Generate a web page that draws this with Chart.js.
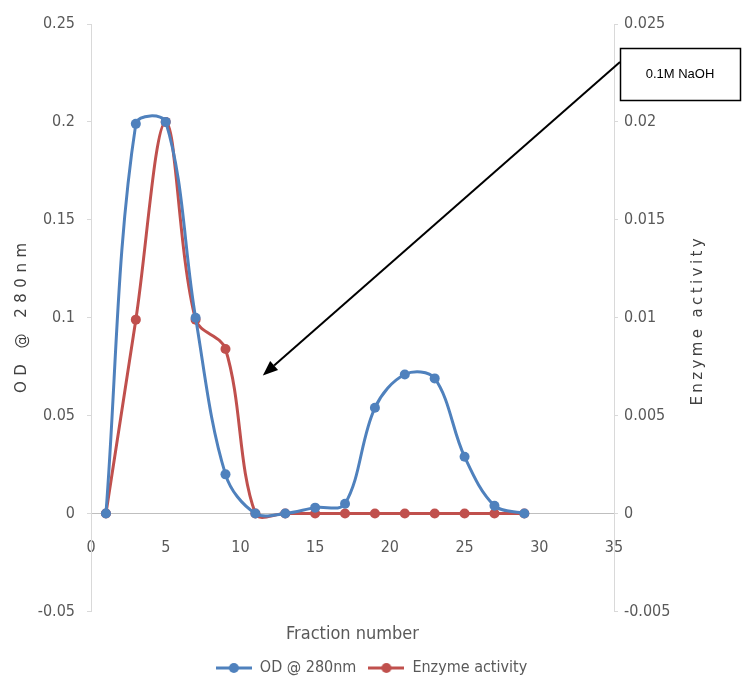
<!DOCTYPE html>
<html><head><meta charset="utf-8">
<script src="https://cdn.jsdelivr.net/npm/chart.js@4"></script>
<style>html,body{margin:0;padding:0;background:#fff;}#wrap{width:743px;height:686px;}</style>
</head><body><div id="wrap"><canvas id="c" width="743" height="686"></canvas></div>
<script>
const fractions = [1,3,5,7,9,11,13,15,17,19,21,23,25,27,29];
const odValues = [0,0.199,0.2,0.1,0.02,0,0,0.003,0.005,0.054,0.071,0.069,0.029,0.004,0];
const enzymeValues = [0,0.0099,0.02,0.0099,0.0084,0,0,0,0,0,0,0,0,0,0];
const seriesNames = ['OD @ 280nm','Enzyme activity'];
const xTitle = 'Fraction number';
const leftTitle = 'OD @ 280nm';
const rightTitle = 'Enzyme activity';
const noteText = '0.1M NaOH';

const BLUE = '#4F81BD', RED = '#C0504D';
const narrow = "'DejaVu Sans Condensed','Liberation Sans Narrow',sans-serif";
const tickFont = {family:narrow, size:16};
const fmt = v => String(+Number(v).toFixed(4));

function legendIcon(color){
  const c = document.createElement('canvas'); c.width = 36; c.height = 12;
  const g = c.getContext('2d');
  g.strokeStyle = color; g.lineWidth = 3;
  g.beginPath(); g.moveTo(0,6); g.lineTo(36,6); g.stroke();
  g.fillStyle = color; g.beginPath(); g.arc(18,6,5,0,Math.PI*2); g.fill();
  return c;
}
const icons = [legendIcon(BLUE), legendIcon(RED)];

const annot = {
  id:'annot',
  afterDraw(chart){
    const ctx = chart.ctx, xs = chart.scales.x, ys = chart.scales.y;
    ctx.save();
    ctx.fillStyle = '#404040';
    ctx.font = "15px 'DejaVu Sans'";
    ctx.textAlign = 'center'; ctx.textBaseline = 'middle';
    ctx.save(); ctx.translate(22, 318); ctx.rotate(-Math.PI/2);
    ctx.letterSpacing = '5.5px'; ctx.fillText(leftTitle, 2.7, 0); ctx.restore();
    ctx.save(); ctx.translate(698, 322); ctx.rotate(-Math.PI/2);
    ctx.letterSpacing = '3.4px'; ctx.fillText(rightTitle, 1.7, 0); ctx.restore();
    const tipX = xs.getPixelForValue(11.5), tipY = ys.getPixelForValue(0.0705);
    const sx = 620, sy = 62;
    const ang = Math.atan2(tipY - sy, tipX - sx);
    const hl = 15, hw = 6;
    const bx = tipX - hl*Math.cos(ang), by = tipY - hl*Math.sin(ang);
    ctx.strokeStyle = '#000'; ctx.lineWidth = 2;
    ctx.beginPath(); ctx.moveTo(sx, sy); ctx.lineTo(bx, by); ctx.stroke();
    ctx.fillStyle = '#000';
    ctx.beginPath(); ctx.moveTo(tipX, tipY);
    ctx.lineTo(bx + hw*Math.sin(ang), by - hw*Math.cos(ang));
    ctx.lineTo(bx - hw*Math.sin(ang), by + hw*Math.cos(ang));
    ctx.closePath(); ctx.fill();
    ctx.fillStyle = '#fff'; ctx.fillRect(620, 48, 121, 53);
    ctx.strokeStyle = '#000'; ctx.lineWidth = 1.5; ctx.strokeRect(620.5, 48.5, 120, 52);
    ctx.fillStyle = '#000'; ctx.font = "13px 'Liberation Sans', sans-serif";
    ctx.textAlign = 'center'; ctx.textBaseline = 'middle';
    ctx.fillText(noteText, 680, 74);
    ctx.restore();
  }
};

new Chart(document.getElementById('c'), {
  type:'line',
  data:{
    datasets:[
      {label:seriesNames[0], data:fractions.map((f,i)=>({x:f,y:odValues[i]})), yAxisID:'y',
       borderColor:BLUE, backgroundColor:BLUE, borderWidth:3, pointRadius:5, pointBorderWidth:0,
       tension:0.35, pointStyle:'circle'},
      {label:seriesNames[1], data:fractions.map((f,i)=>({x:f,y:enzymeValues[i]})), yAxisID:'y1',
       borderColor:RED, backgroundColor:RED, borderWidth:3, pointRadius:5, pointBorderWidth:0,
       tension:0.35, pointStyle:'circle'}
    ]
  },
  options:{
    responsive:false, animation:false, devicePixelRatio:1,
    layout:{padding:{top:24,left:0,right:0,bottom:0}},
    scales:{
      x:{type:'linear', position:{y:0}, min:0, max:35,
         ticks:{stepSize:5, font:tickFont, color:'#595959', padding:25},
         grid:{display:false, drawTicks:false},
         border:{display:true, color:'#bfbfbf', width:1}},
      y:{type:'linear', position:'left', min:-0.05, max:0.25,
         ticks:{stepSize:0.05, font:tickFont, color:'#595959', padding:12, callback:fmt},
         grid:{drawOnChartArea:false, tickLength:4, color:'#d9d9d9'},
         border:{color:'#d9d9d9'},
         afterFit(s){ s.width = 91; }},
      y1:{type:'linear', position:'right', min:-0.005, max:0.025,
         ticks:{stepSize:0.005, font:tickFont, color:'#595959', padding:6, callback:fmt},
         grid:{drawOnChartArea:false, tickLength:4, color:'#d9d9d9'},
         border:{color:'#d9d9d9'},
         afterFit(s){ s.width = 129; }}
    },
    plugins:{
      title:{display:true, text:xTitle, position:'bottom', weight:500, fullSize:false,
        font:{family:narrow, size:18, weight:'normal'},
        color:'#595959', padding:{top:12,bottom:3}},
      legend:{position:'bottom',
        labels:{usePointStyle:true, pointStyleWidth:36, boxHeight:12, padding:12,
          font:{family:narrow, size:16}, color:'#595959',
          generateLabels(chart){
            const items = Chart.defaults.plugins.legend.labels.generateLabels(chart);
            items.forEach((it,i)=>{ it.pointStyle = icons[i]; });
            return items;
          }}},
      tooltip:{enabled:false}
    }
  },
  plugins:[annot]
});
</script></body></html>
